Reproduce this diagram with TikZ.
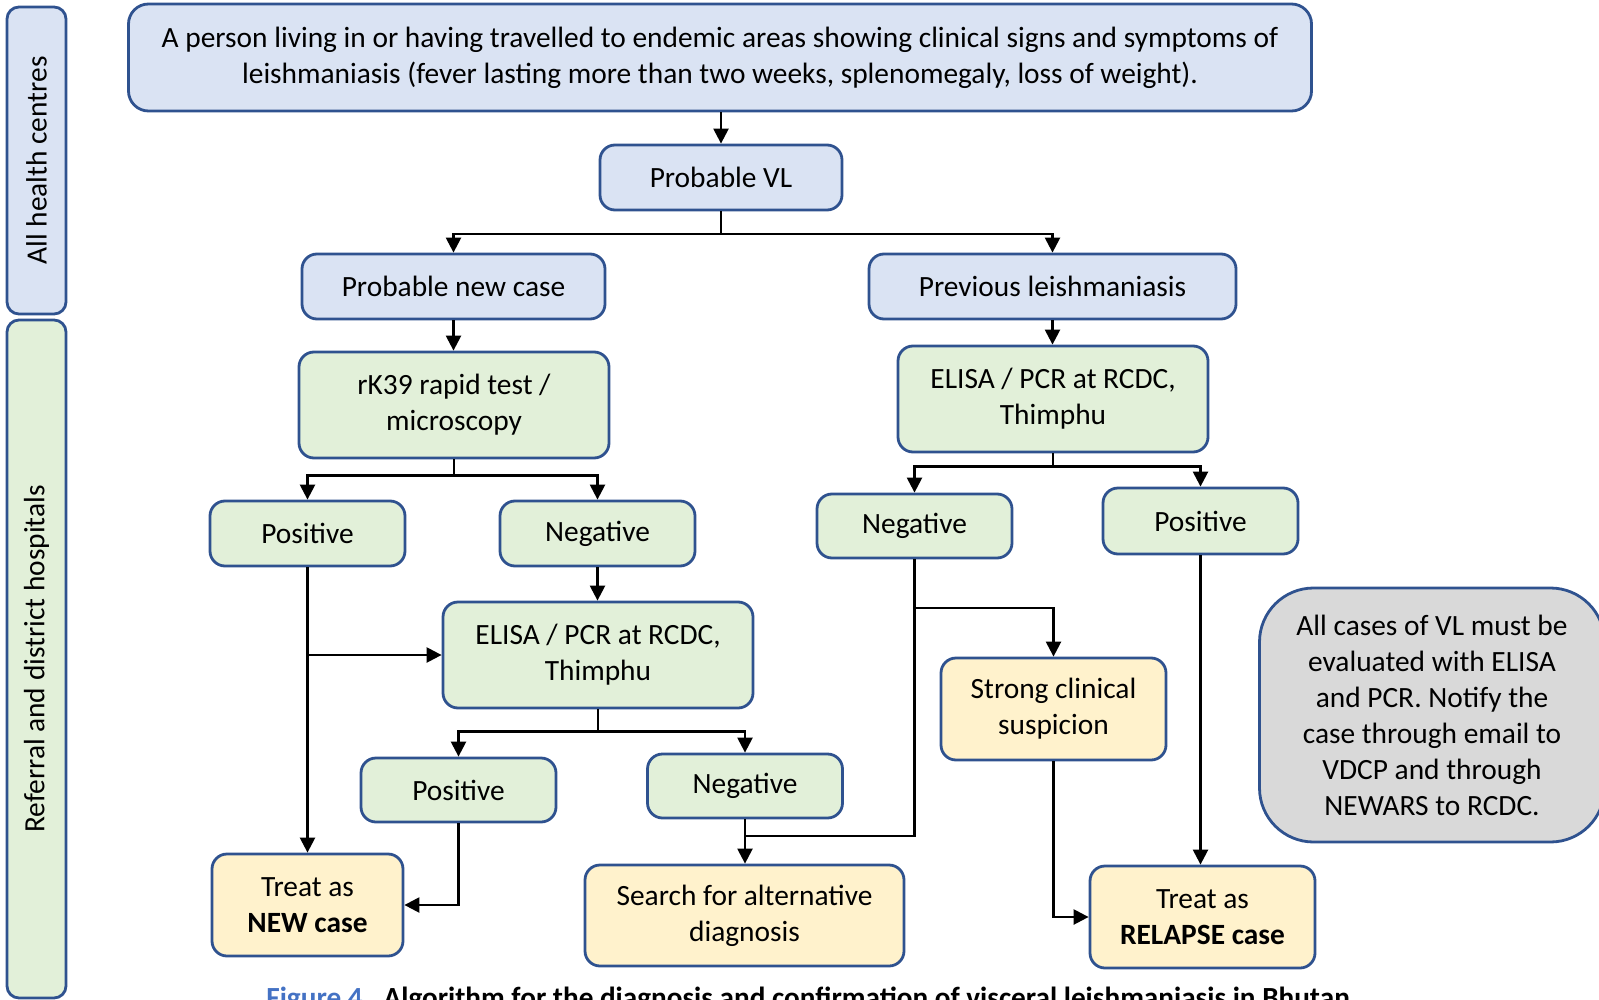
\documentclass[tikz,border=0pt]{standalone}
\usepackage{fontspec}
\setmainfont{Carlito}
\usetikzlibrary{arrows.meta}
\definecolor{bfill}{HTML}{DAE3F3}
\definecolor{gfill}{HTML}{E2F0D9}
\definecolor{yfill}{HTML}{FFF2CC}
\definecolor{greyfill}{HTML}{D9D9D9}
\definecolor{bord}{HTML}{2F528F}
\definecolor{capblue}{HTML}{4472C4}
\tikzset{
  basebox/.style={draw=bord, line width=1.4pt, rounded corners=7.5pt, inner sep=0pt, align=center, font=\fontsize{14.7}{18}\selectfont},
  bluebox/.style={basebox, fill=bfill},
  greenbox/.style={basebox, fill=gfill},
  yellowbox/.style={basebox, fill=yfill},
  greybox/.style={basebox, fill=greyfill, rounded corners=27pt},
  sidebox/.style={basebox, rounded corners=6pt},
  arr/.style={line width=1.2pt, -{Triangle[width=7.5pt,length=7.5pt]}},
  ln/.style={line width=1.2pt},
}
\begin{document}
\begin{tikzpicture}[x=0.5pt,y=-0.5pt]
\useasboundingbox (0,0) rectangle (1599,1000);
% sidebars
\node[sidebox, fill=bfill, minimum width=29.5pt, minimum height=153.5pt] (side1) at (36.5,160.5) {};
\node[rotate=90, font=\fontsize{14.7}{18}\selectfont] (side1t) at (side1.center) {All health centres};
\node[sidebox, fill=gfill, minimum width=29.5pt, minimum height=339pt] (side2) at (36.5,659) {};
\node[rotate=90, font=\fontsize{14.7}{18}\selectfont] (side2t) at (side2.center) {Referral and district hospitals};
% boxes
\node[bluebox, minimum width=591.5pt, minimum height=53.5pt, rounded corners=10pt] (top) at (720,57.5) {A person living in or having travelled to endemic areas showing clinical signs and symptoms of\\leishmaniasis (fever lasting more than two weeks, splenomegaly, loss of weight).};
\node[bluebox, minimum width=121pt, minimum height=32.5pt] (probvl) at (721,177.5) {Probable VL};
\node[bluebox, minimum width=151.5pt, minimum height=32.5pt] (newcase) at (453.5,286.5) {Probable new case};
\node[bluebox, minimum width=183.5pt, minimum height=32.5pt] (prev) at (1052.5,286.5) {Previous leishmaniasis};
\node[greenbox, minimum width=155pt, minimum height=53pt] (rk39) at (454,405) {rK39 rapid test /\\microscopy};
\node[greenbox, minimum width=155pt, minimum height=53pt] (elisaR) at (1053,399) {ELISA / PCR at RCDC,\\Thimphu};
\node[greenbox, minimum width=97.5pt, minimum height=32.5pt] (posL) at (307.5,533.5) {Positive};
\node[greenbox, minimum width=97.5pt, minimum height=32.5pt] (negL) at (597.5,533.5) {Negative};
\node[greenbox, minimum width=97.5pt, minimum height=32pt] (negR) at (914.5,526) {Negative};
\node[greenbox, minimum width=97.5pt, minimum height=33pt] (posR) at (1200.5,521) {Positive};
\node[greenbox, minimum width=155pt, minimum height=53pt] (elisaM) at (598,655) {ELISA / PCR at RCDC,\\Thimphu};
\node[yellowbox, minimum width=112.5pt, minimum height=51pt] (strong) at (1053.5,709) {Strong clinical\\suspicion};
\node[greybox, minimum width=172.5pt, minimum height=127pt] (grey) at (1432,715) {All cases of VL must be\\evaluated with ELISA\\and PCR. Notify the\\case through email to\\VDCP and through\\NEWARS to RCDC.};
\node[greenbox, minimum width=97.5pt, minimum height=32pt] (posB) at (458.5,790) {Positive};
\node[greenbox, minimum width=97.5pt, minimum height=32pt] (negB) at (745,786) {Negative};
\node[yellowbox, minimum width=95.5pt, minimum height=51pt] (treatN) at (307.5,905) {Treat as\\\textbf{NEW case}};
\node[yellowbox, minimum width=159.5pt, minimum height=50.5pt] (search) at (744.5,915.5) {Search for alternative\\diagnosis};
\node[yellowbox, minimum width=112.5pt, minimum height=51pt] (relapse) at (1202.5,917) {Treat as\\\textbf{RELAPSE case}};
% connectors
\draw[arr] (probvl.north |- top.south) -- (probvl.north);
\draw[arr] (probvl.south) -- ++(0,22.5) -| (newcase.north);
\draw[arr] (probvl.south) -- ++(0,22.5) -| (prev.north);
\draw[arr] (newcase.south) -- (newcase.south |- rk39.north);
\draw[arr] (prev.south) -- (prev.south |- elisaR.north);
\draw[arr] (rk39.south) -- ++(0,16) -| (posL.north);
\draw[arr] (rk39.south) -- ++(0,16) -| (negL.north);
\draw[arr] (elisaR.south) -- ++(0,13) -| (negR.north);
\draw[arr] (elisaR.south) -- ++(0,13) -| (posR.north);
\draw[arr] (negL.south) -- (negL.south |- elisaM.north);
\draw[arr] (posL.south) -- (posL.south |- treatN.north);
\coordinate (br) at (posL.south |- elisaM.west);
\draw[arr] (br) -- (elisaM.west);
\draw[arr] (elisaM.south) -- ++(0,22) -| (posB.north);
\draw[arr] (elisaM.south) -- ++(0,22) -| (negB.north);
\draw[arr] (posB.south) |- (treatN.east);
\draw[arr] (negB.south) -- (negB.south |- search.north);
\coordinate (mg) at (745,836);
\draw[ln] (negR.south) |- (mg);
\coordinate (sp) at (914.5,608);
\draw[arr] (sp) -| (strong.north);
\draw[arr] (strong.south) |- (relapse.west);
\draw[arr] (posR.south) -- (posR.south |- relapse.north);
% caption (cut off at bottom, as in the reference)
\node[anchor=north west, inner sep=0pt, font=\fontsize{14.6}{17}\selectfont\bfseries] (cap) at (266,987) {\textcolor{capblue}{Figure 4.}\ \ Algorithm for the diagnosis and confirmation of visceral leishmaniasis in Bhutan};
\end{tikzpicture}
\end{document}
